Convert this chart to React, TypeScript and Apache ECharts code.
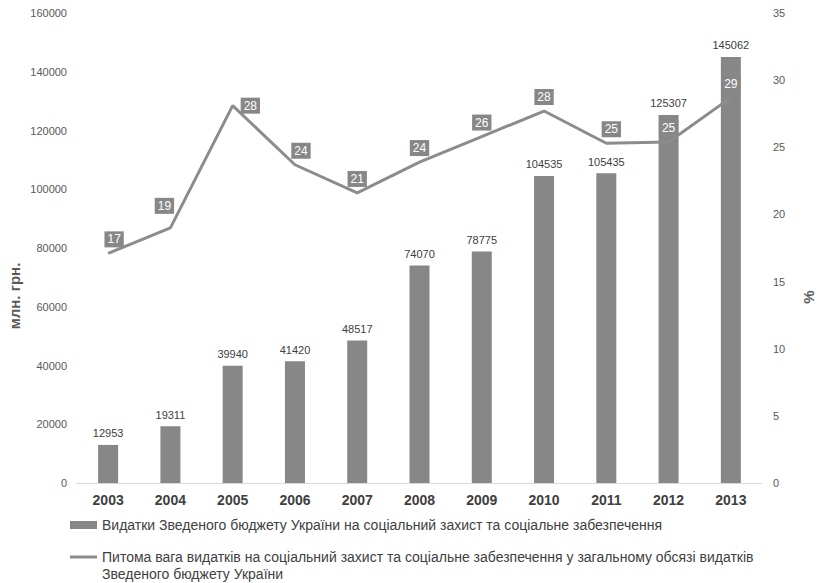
import React, { useEffect, useRef } from "react";
import * as echarts from "echarts";

const years = ["2003", "2004", "2005", "2006", "2007", "2008", "2009", "2010", "2011", "2012", "2013"];
const spending = [12953, 19311, 39940, 41420, 48517, 74070, 78775, 104535, 105435, 125307, 145062];
const share = [17.1, 19.0, 28.1, 23.7, 21.6, 23.9, 25.8, 27.7, 25.3, 25.4, 28.7];
const shareLabels = ["17", "19", "28", "24", "21", "24", "26", "28", "25", "25", "29"];
const leftTicks = { min: 0, max: 160000, interval: 20000 };
const rightTicks = { min: 0, max: 35, interval: 5 };

const barName = "Видатки Зведеного бюджету України на соціальний захист та соціальне забезпечення";
const lineName =
  "Питома вага видатків на соціальний захист та соціальне забезпечення у загальному обсязі видатків Зведеного бюджету України";
const lineNameFirst = "Питома вага видатків на соціальний захист та соціальне забезпечення у загальному обсязі видатків";
const lineNameSecond = "Зведеного бюджету України";

const FONT = "'Liberation Sans', Arial, sans-serif";

export default function App() {
  const ref = useRef<HTMLDivElement>(null);
  useEffect(() => {
    if (!ref.current) return;
    const chart = echarts.init(ref.current, null, { renderer: "svg" });
    const legendText = {
      color: "#404040",
      fontSize: 14,
      fontFamily: FONT,
    };
    chart.setOption({
      animation: false,
      textStyle: { fontFamily: FONT },
      grid: { left: 77, right: 58, top: 13, bottom: 100, containLabel: false },
      legend: [
        {
          orient: "vertical",
          left: 65,
          top: 513,
          itemWidth: 27,
          itemHeight: 8,
          textStyle: legendText,
          data: [{ name: barName, icon: "rect" }],
        },
        {
          orient: "vertical",
          left: 65,
          top: 545,
          itemWidth: 27,
          itemHeight: 3,
          textStyle: legendText,
          formatter: (n: string) => (n === lineName ? lineNameFirst : n),
          data: [{ name: lineName, icon: "rect", itemStyle: { color: "#8c8c8c" } }],
        },
      ],
      xAxis: {
        type: "category",
        data: years,
        axisLine: { lineStyle: { color: "#d9d9d9", width: 1 } },
        axisTick: { show: false },
        axisLabel: { color: "#404040", fontSize: 14, fontWeight: "bold", margin: 10, fontFamily: FONT },
      },
      yAxis: [
        {
          type: "value",
          ...leftTicks,
          axisLine: { show: false },
          axisTick: { show: false },
          splitLine: { show: false },
          axisLabel: {
            color: "#595959",
            fontSize: 11,
            margin: 10,
            fontFamily: FONT,
            formatter: (v: number) => String(v),
          },
        },
        {
          type: "value",
          ...rightTicks,
          axisLine: { show: false },
          axisTick: { show: false },
          splitLine: { show: false },
          axisLabel: {
            color: "#595959",
            fontSize: 11,
            margin: 11,
            fontFamily: FONT,
            formatter: (v: number) => String(v),
          },
        },
      ],
      graphic: [
        {
          type: "text",
          x: 14,
          y: 296,
          rotation: Math.PI / 2,
          style: {
            text: "млн. грн.",
            fill: "#595959",
            font: `bold 15px ${FONT}`,
            align: "center",
            verticalAlign: "middle",
          },
        },
        {
          type: "text",
          x: 808,
          y: 297,
          rotation: Math.PI / 2,
          style: {
            text: "%",
            fill: "#595959",
            font: `bold 15px ${FONT}`,
            align: "center",
            verticalAlign: "middle",
          },
        },
        {
          type: "text",
          left: 102,
          top: 567,
          style: {
            text: lineNameSecond,
            fill: "#404040",
            font: `14px ${FONT}`,
          },
        },
      ],
      series: [
        {
          name: barName,
          type: "bar",
          yAxisIndex: 0,
          data: spending,
          barWidth: 20,
          itemStyle: { color: "#878787" },
          label: {
            show: true,
            position: "top",
            distance: 6,
            color: "#404040",
            fontSize: 11,
            fontFamily: FONT,
          },
        },
        {
          name: lineName,
          type: "line",
          yAxisIndex: 1,
          data: share.map((v, i) => ({
            value: v,
            label:
              i === 2
                ? { position: "right", distance: 8 }
                : i === 0 || i === 3
                ? { position: "top", offset: [6, 0] }
                : i === 1
                ? { position: "top", offset: [-6, -8] }
                : i === 8
                ? { position: "top", offset: [5, 0] }
                : { position: "top" },
          })),
          symbol: "circle",
          symbolSize: 0,
          showSymbol: true,
          lineStyle: { color: "#8c8c8c", width: 3 },
          itemStyle: { color: "#8c8c8c" },
          label: {
            show: true,
            position: "top",
            distance: 6,
            formatter: (p: any) => shareLabels[p.dataIndex],
            color: "#ffffff",
            fontSize: 12,
            fontFamily: FONT,
            backgroundColor: "#878787",
            padding: [2, 3, 2, 3],
          },
        },
      ],
    });
    return () => chart.dispose();
  }, []);
  return <div ref={ref} style={{ position: "absolute", left: 0, top: 0, width: 820, height: 583 }} />;
}
